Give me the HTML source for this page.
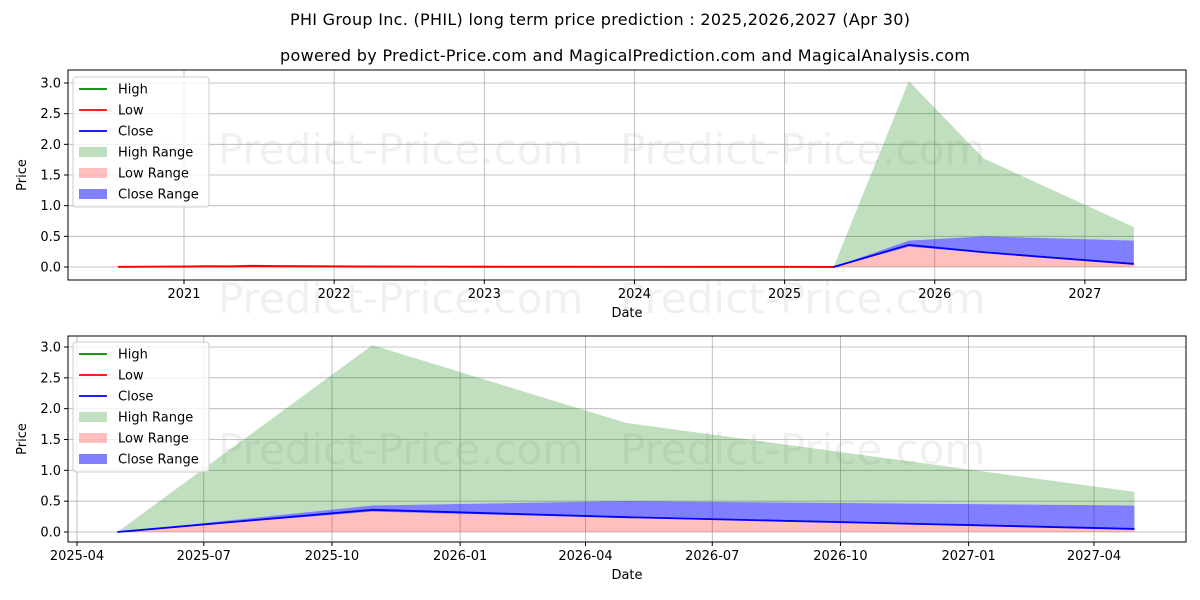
<!DOCTYPE html>
<html><head><meta charset="utf-8"><style>
body{margin:0;background:#fff;}
svg{display:block;font-family:"DejaVu Sans","Liberation Sans",sans-serif;}
</style></head><body>
<svg id="c" width="1200" height="600">
<text x="600" y="25" text-anchor="middle" font-size="16" textLength="620">PHI Group Inc. (PHIL) long term price prediction : 2025,2026,2027 (Apr 30)</text>
<text x="625" y="61" text-anchor="middle" font-size="16" textLength="690">powered by Predict-Price.com and MagicalPrediction.com and MagicalAnalysis.com</text>
</svg>
<script>
// historical (decimal years)
const histDates=[2020.56,2020.8,2021.0,2021.15,2021.3,2021.45,2021.6,2021.8,2022.0,2022.3,2022.6,2023.0,2023.5,2024.0,2024.5,2025.0,2025.33];
const histHigh=[0.004,0.006,0.008,0.014,0.012,0.02,0.016,0.013,0.012,0.008,0.006,0.005,0.004,0.004,0.003,0.003,0.002];
const histLow=[0.002,0.004,0.005,0.008,0.007,0.012,0.01,0.009,0.007,0.005,0.004,0.003,0.003,0.002,0.002,0.002,0.001];
// prediction
const predDates=["2025-04-30","2025-10-30","2026-04-30","2027-04-30"];
const predHigh=[0.0,3.03,1.77,0.65];
const predLow=[0.0,0.31,0.21,0.02];
const predClose=[0.0,0.36,0.24,0.05];
const predCloseLow=[0.0,0.33,0.23,0.04];
const predCloseHigh=[0.0,0.43,0.50,0.43];
const yTicks=[0,0.5,1,1.5,2,2.5,3];
const yTickLabels=["0.0","0.5","1.0","1.5","2.0","2.5","3.0"];
const topXTicks=[2021,2022,2023,2024,2025,2026,2027];
const botXTicks=["2025-04-01","2025-07-01","2025-10-01","2026-01-01","2026-04-01","2026-07-01","2026-10-01","2027-01-01","2027-04-01"];
const botXLabels=["2025-04","2025-07","2025-10","2026-01","2026-04","2026-07","2026-10","2027-01","2027-04"];

const NS="http://www.w3.org/2000/svg";
const svg=document.getElementById('c');
function mk(tag,attrs,parent){const e=document.createElementNS(NS,tag);for(const k in attrs)e.setAttribute(k,attrs[k]);(parent||svg).appendChild(e);return e;}
function dy(s){const d=new Date(s+"T00:00:00Z");const y=d.getUTCFullYear();const s0=Date.UTC(y,0,1),s1=Date.UTC(y+1,0,1);return y+(d-s0)/(s1-s0);}
const predYears=predDates.map(dy);

function panel(opt){
  const {L,R,T,B,x0,x1,y0px,y3px,name}=opt;
  const X=v=>L+(v-x0)/(x1-x0)*(R-L);
  const Y=v=>y0px+(y3px-y0px)*v/3;
  const g=mk('g',{});
  
  
  opt.marks.forEach(m=>{const t=mk('text',{x:m[0],y:m[1],'font-size':42,fill:'#000','fill-opacity':0.06},g);t.textContent="Predict-Price.com";});
  yTicks.forEach((v,i)=>{mk('line',{x1:L,x2:R,y1:Y(v),y2:Y(v),stroke:'#b0b0b0','stroke-width':0.8},g);
    mk('line',{x1:L-4,x2:L,y1:Y(v),y2:Y(v),stroke:'#000'},g);
    const t=mk('text',{x:L-7,y:Y(v)+4.5,'text-anchor':'end','font-size':13},g);t.textContent=yTickLabels[i];
    });
  opt.xt.forEach((v,i)=>{const x=X(v);mk('line',{x1:x,x2:x,y1:T,y2:B,stroke:'#b0b0b0','stroke-width':0.8},g);
    mk('line',{x1:x,x2:x,y1:B,y2:B+4,stroke:'#000'},g);
    const t=mk('text',{x:x,y:B+18,'text-anchor':'middle','font-size':13},g);t.textContent=opt.xl[i];
    });
  const area=(xs,lo,hi,fill,op,nm)=>{let d='M'+xs.map((x,i)=>X(x)+','+Y(hi[i])).join('L');
    for(let i=xs.length-1;i>=0;i--)d+='L'+X(xs[i])+','+Y(lo[i]);
    const p=mk('path',{d:d+'Z',fill:fill,'fill-opacity':op},g);};
  const line=(xs,v,c,nm)=>{const p=mk('polyline',{points:xs.map((x,i)=>X(x)+','+Y(v[i])).join(' '),fill:'none',stroke:c,'stroke-width':1.8},g);};
  const zeros=predYears.map(()=>0);
  area(predYears,predCloseHigh,predHigh,'#008000',0.25,'high-range-area');
  area(predYears,zeros,predCloseLow,'#ff0000',0.25,'low-range-area');
  area(predYears,predCloseLow,predCloseHigh,'#0000ff',0.5,'close-range-area');
  if(opt.hist){line(histDates,histHigh,'#008000','high-line');line(histDates,histLow,'#ff0000','low-line');}
  line(predYears,predClose,'#0000ff','close-line');
  mk('rect',{x:L,y:T,width:R-L,height:B-T,fill:'none',stroke:'#000','stroke-width':1},g);
  const yl=mk('text',{x:0,y:0,'font-size':13,'text-anchor':'middle',transform:`translate(${L-42},${(T+B)/2}) rotate(-90)`},g);yl.textContent='Price';
  
  const xl=mk('text',{x:(L+R)/2,y:B+37,'font-size':13,'text-anchor':'middle'},g);xl.textContent='Date';
  
  const lg=mk('g',{},g);
  const ly=opt.legY;
  mk('rect',{x:73,y:ly,width:136,height:130,rx:3,fill:'#fff','fill-opacity':0.8,stroke:'#ccc'},lg);
  const items=[['High','line','#008000'],['Low','line','#ff0000'],['Close','line','#0000ff'],['High Range','box','rgba(0,128,0,0.25)'],['Low Range','box','rgba(255,0,0,0.25)'],['Close Range','box','rgba(0,0,255,0.5)']];
  items.forEach((it,i)=>{const cy=ly+12+i*21;
    if(it[1]=='line')mk('line',{x1:79,x2:107,y1:cy,y2:cy,stroke:it[2],'stroke-width':1.8},lg);
    else mk('rect',{x:79,y:cy-5,width:28,height:10,fill:it[2]},lg);
    const t=mk('text',{x:118,y:cy+4.5,'font-size':13},lg);t.textContent=it[0];
    });
}
const yr0=2021,px2021=184,pxYear=150.15;
panel({name:'long-term-panel',L:68,R:1186,T:70,B:280,x0:yr0-(px2021-68)/pxYear,x1:yr0+(1186-px2021)/pxYear,y0px:267,y3px:83,
  xt:topXTicks,xl:topXTicks.map(String),hist:true,legY:77,marks:[[218,164],[620,164],[218,313],[620,313]]});
const b0=dy("2025-04-01"),b1=dy("2027-04-01"),pb0=77,pb1=1094;
const bs=(pb1-pb0)/(b1-b0);
panel({name:'prediction-panel',L:68,R:1186,T:336,B:542,x0:b0-(pb0-68)/bs,x1:b1+(1186-pb1)/bs,y0px:532,y3px:347,
  xt:botXTicks.map(dy),xl:botXLabels,hist:false,legY:342,marks:[[218,464],[620,464]]});
</script>
</body></html>
